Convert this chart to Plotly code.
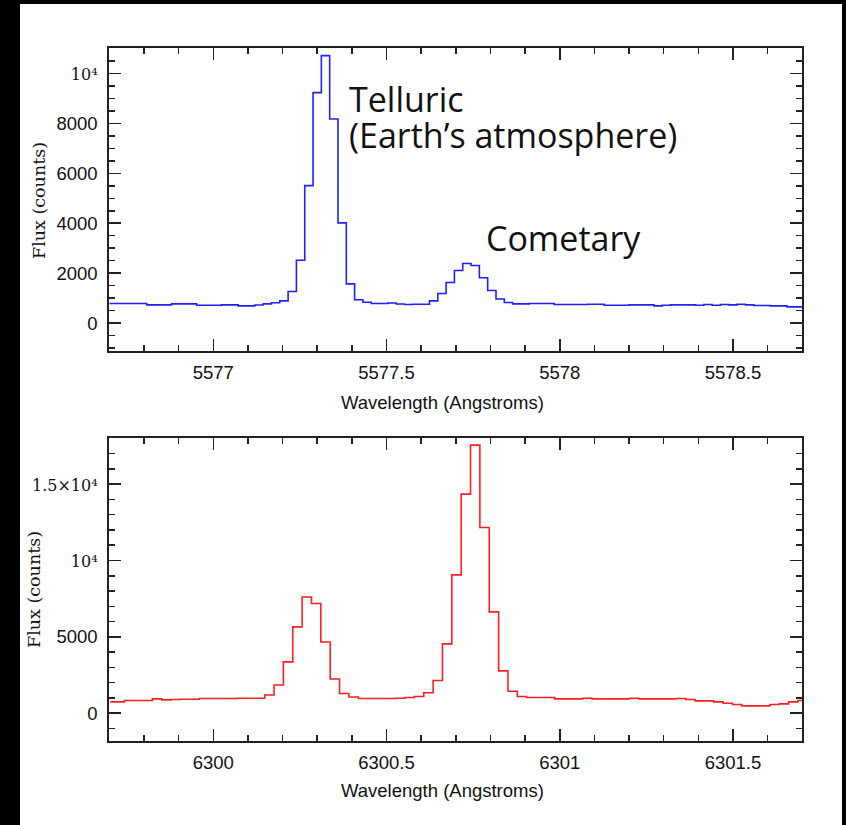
import plotly.graph_objects as go

W, H = 846, 825

# ---------------- data ----------------
wl_top = [5576.700, 5576.724, 5576.748, 5576.772, 5576.796, 5576.820, 5576.844, 5576.868,
          5576.892, 5576.916, 5576.940, 5576.964, 5576.988, 5577.012, 5577.036, 5577.060,
          5577.084, 5577.108, 5577.132, 5577.156, 5577.180, 5577.204, 5577.228, 5577.252,
          5577.276, 5577.300, 5577.324, 5577.348, 5577.372, 5577.396, 5577.420, 5577.444,
          5577.468, 5577.492, 5577.516, 5577.540, 5577.564, 5577.588, 5577.612, 5577.636,
          5577.660, 5577.684, 5577.708, 5577.732, 5577.756, 5577.780, 5577.804, 5577.828,
          5577.852, 5577.876, 5577.900, 5577.924, 5577.948, 5577.972, 5577.996, 5578.020,
          5578.044, 5578.068, 5578.092, 5578.116, 5578.140, 5578.164, 5578.188, 5578.212,
          5578.236, 5578.260, 5578.284, 5578.308, 5578.332, 5578.356, 5578.380, 5578.404,
          5578.428, 5578.452, 5578.476, 5578.500, 5578.524, 5578.548, 5578.572, 5578.596,
          5578.620, 5578.644, 5578.668, 5578.692, 5578.716]
flux_top = [787, 787, 787, 787, 787, 733, 733, 733,
            773, 773, 773, 720, 720, 720, 733, 733,
            693, 693, 727, 773, 820, 893, 1270, 2520,
            5507, 9227, 10707, 8173, 4013, 1573, 940, 840,
            787, 787, 810, 770, 750, 760, 760, 893,
            1187, 1627, 2107, 2387, 2307, 1820, 1310, 970,
            827, 773, 773, 787, 787, 787, 747, 747,
            747, 747, 760, 760, 720, 720, 720, 733,
            733, 733, 693, 720, 733, 733, 733, 720,
            747, 720, 747, 733, 760, 733, 707, 707,
            693, 693, 653, 653, 653]

wl_bot = [6299.703, 6299.730, 6299.757, 6299.784, 6299.811, 6299.838, 6299.865, 6299.892,
          6299.919, 6299.946, 6299.973, 6300.000, 6300.027, 6300.054, 6300.081, 6300.108,
          6300.135, 6300.162, 6300.189, 6300.216, 6300.243, 6300.270, 6300.297, 6300.324,
          6300.351, 6300.378, 6300.405, 6300.432, 6300.459, 6300.486, 6300.513, 6300.540,
          6300.567, 6300.594, 6300.621, 6300.648, 6300.675, 6300.702, 6300.729, 6300.756,
          6300.783, 6300.810, 6300.837, 6300.864, 6300.891, 6300.918, 6300.945, 6300.972,
          6300.999, 6301.026, 6301.053, 6301.080, 6301.107, 6301.134, 6301.161, 6301.188,
          6301.215, 6301.242, 6301.269, 6301.296, 6301.323, 6301.350, 6301.377, 6301.404,
          6301.431, 6301.458, 6301.485, 6301.512, 6301.539, 6301.566, 6301.593, 6301.620,
          6301.647, 6301.674, 6301.701, 6301.728]
flux_bot = [742, 742, 830, 830, 830, 939, 874, 895,
            917, 917, 961, 961, 961, 961, 983, 983,
            983, 1190, 1845, 3362, 5655, 7610, 7183, 4660,
            2238, 1288, 1060, 961, 961, 961, 961, 983,
            1026, 1090, 1343, 2140, 4541, 9060, 14345, 17554,
            12161, 6637, 2773, 1441, 1090, 1026, 1026, 1026,
            939, 939, 939, 983, 939, 939, 939, 939,
            983, 939, 939, 939, 939, 961, 895, 808,
            808, 742, 655, 568, 480, 480, 480, 568,
            611, 742, 830, 830]

xtick_top_vals = [5577, 5577.5, 5578, 5578.5]
xtick_top_text = ["5577", "5577.5", "5578", "5578.5"]
xtick_bot_vals = [6300, 6300.5, 6301, 6301.5]
xtick_bot_text = ["6300", "6300.5", "6301", "6301.5"]

SERIF = "font-family:'DejaVu Serif', serif;font-size:16px"
ytick_top_vals = [0, 2000, 4000, 6000, 8000, 10000]
ytick_top_text = ["0", "2000", "4000", "6000", "8000",
                  f'<span style="{SERIF}">10⁴</span>']
ytick_bot_vals = [0, 5000, 10000, 15000]
ytick_bot_text = ["0", "5000",
                  f'<span style="{SERIF}">10⁴</span>',
                  f'<span style="{SERIF}">1.5×10⁴</span>']

x_title = "Wavelength (Angstroms)"
y_title = "Flux (counts)"
label_telluric_1 = "Telluric"
label_telluric_2 = "(Earth’s atmosphere)"
label_comet = "Cometary"

# ---------------- helpers (pixel -> paper) ----------------
def px(x):
    return x / W

def py(y):
    return 1 - y / H

FRAME = "#222222"
SANS = "Liberation Sans, Arial, Helvetica, sans-serif"
TICKFONT = dict(family=SANS, size=18.5, color="#111111")
LABELFONT = dict(family="Open Sans, sans-serif", size=34, color="#111111")

def xaxis(rng, vals, text, tick0, anchor):
    return dict(
        range=rng, domain=[px(109.3), px(802.3)], anchor=anchor,
        tickmode="array", tickvals=vals, ticktext=text,
        ticks="inside", ticklen=12, tickwidth=1.5, tickcolor=FRAME,
        showline=True, linewidth=2, linecolor=FRAME, mirror="ticks",
        showgrid=False, zeroline=False, tickfont=TICKFONT,
        ticklabelstandoff=4,
        minor=dict(ticks="inside", ticklen=6, tickwidth=1.5, tickcolor=FRAME,
                   tickmode="linear", tick0=tick0, dtick=0.1, showgrid=False),
    )

def yaxis(rng, vals, text, dtick_minor, anchor, dom):
    return dict(
        range=rng, domain=dom, anchor=anchor,
        tickmode="array", tickvals=vals, ticktext=text,
        ticks="inside", ticklen=12, tickwidth=1.5, tickcolor=FRAME,
        showline=True, linewidth=2, linecolor=FRAME, mirror="ticks",
        showgrid=False, zeroline=False, tickfont=TICKFONT,
        ticklabelstandoff=6,
        minor=dict(ticks="inside", ticklen=6, tickwidth=1.5, tickcolor=FRAME,
                   tickmode="linear", tick0=0, dtick=dtick_minor, showgrid=False),
    )

fig = go.Figure()
fig.add_trace(go.Scatter(x=wl_top, y=flux_top, mode="lines",
                         line=dict(shape="hvh", color="#1f1fff", width=1.6),
                         xaxis="x", yaxis="y", showlegend=False, hoverinfo="skip"))
fig.add_trace(go.Scatter(x=wl_bot, y=flux_bot, mode="lines",
                         line=dict(shape="hvh", color="#ff1f1f", width=1.6),
                         xaxis="x2", yaxis="y2", showlegend=False, hoverinfo="skip"))

top_dom = [py(350.7), py(48.3)]
bot_dom = [py(740.7), py(438.3)]

annotations = [
    # axis titles
    dict(text=x_title, x=px(442.5), y=py(402), xref="paper", yref="paper",
         showarrow=False, xanchor="center", yanchor="middle",
         font=dict(family=SANS, size=18.5, color="#111111")),
    dict(text=x_title, x=px(442.5), y=py(790), xref="paper", yref="paper",
         showarrow=False, xanchor="center", yanchor="middle",
         font=dict(family=SANS, size=18.5, color="#111111")),
    dict(text=y_title, x=px(38.5), y=py(200.5), xref="paper", yref="paper",
         showarrow=False, xanchor="center", yanchor="middle", textangle=-90,
         font=dict(family="DejaVu Serif, serif", size=17.5, color="#111111")),
    dict(text=y_title, x=px(34), y=py(590), xref="paper", yref="paper",
         showarrow=False, xanchor="center", yanchor="middle", textangle=-90,
         font=dict(family="DejaVu Serif, serif", size=17.5, color="#111111")),
    # labels
    dict(text=label_telluric_1, x=px(347), y=py(99), xref="paper", yref="paper",
         showarrow=False, xanchor="left", yanchor="middle", font=LABELFONT),
    dict(text=label_telluric_2, x=px(347), y=py(135), xref="paper", yref="paper",
         showarrow=False, xanchor="left", yanchor="middle", font=LABELFONT),
    dict(text=label_comet, x=px(484), y=py(238), xref="paper", yref="paper",
         showarrow=False, xanchor="left", yanchor="middle", font=LABELFONT),
]

fig.update_layout(
    width=W, height=H,
    margin=dict(l=0, r=0, t=0, b=0, pad=0),
    paper_bgcolor="black", plot_bgcolor="white",
    xaxis=xaxis([5576.7, 5578.7], xtick_top_vals, xtick_top_text, 5577, "y"),
    yaxis=yaxis([-1100, 11000], ytick_top_vals, ytick_top_text, 500, "x", top_dom),
    xaxis2=xaxis([6299.7, 6301.7], xtick_bot_vals, xtick_bot_text, 6300, "y2"),
    yaxis2=yaxis([-1800, 18000], ytick_bot_vals, ytick_bot_text, 1000, "x2", bot_dom),
    shapes=[dict(type="rect", xref="paper", yref="paper",
                 x0=px(20), x1=px(842), y0=0, y1=py(4),
                 fillcolor="white", line=dict(width=0), layer="below")],
    annotations=annotations,
    showlegend=False,
)

fig.write_html(
    "out.html",
    config={"displayModeBar": False, "staticPlot": True},
    post_script="document.body.style.margin='0';document.body.style.overflow='hidden';",
)
